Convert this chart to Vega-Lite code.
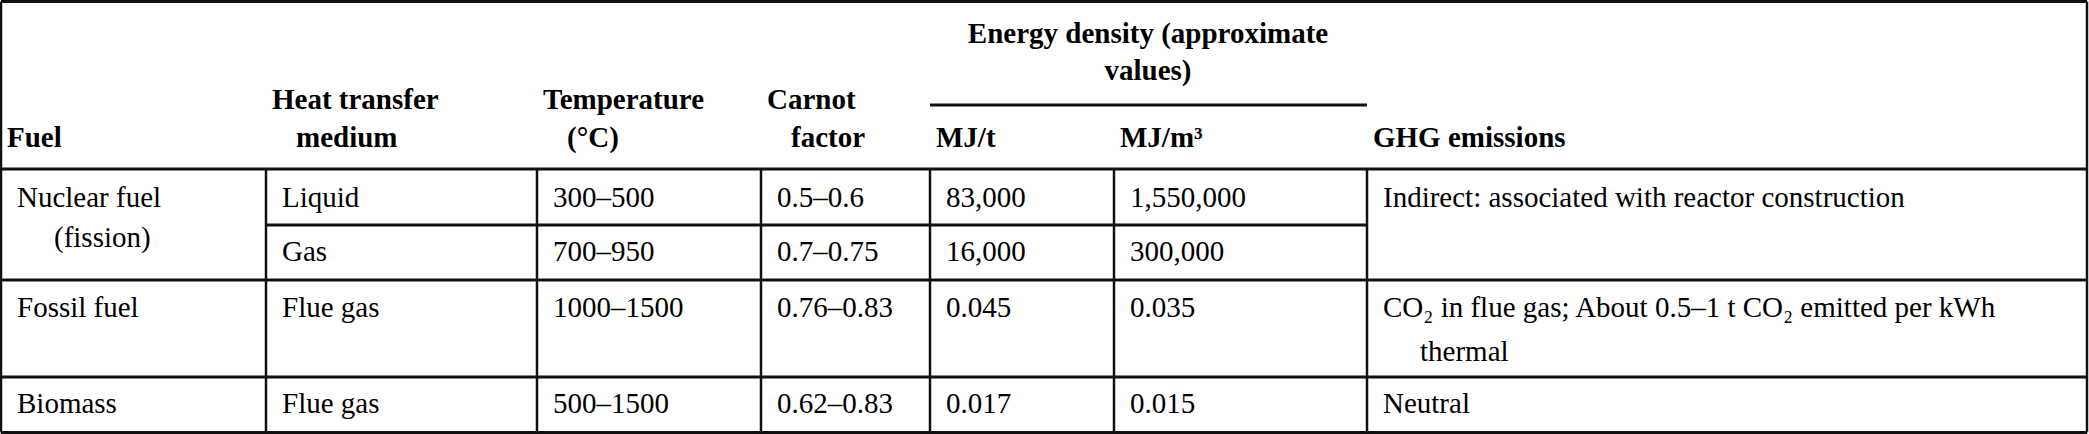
{
  "$schema": "https://vega.github.io/schema/vega-lite/v6.json",
  "width": 2089,
  "height": 434,
  "padding": 0,
  "autosize": {"type": "none"},
  "background": "white",
  "config": {"view": {"stroke": null}, "text": {"font": "Liberation Serif", "fontSize": 29, "color": "black"}},
  "datasets": {
    "cells": [
      {"col": 0, "slot": 3, "text": "Fuel", "kind": "head"},
      {"col": 1, "slot": 2, "text": "Heat transfer", "kind": "head"},
      {"col": 1, "slot": 3, "text": "medium", "kind": "head2"},
      {"col": 2, "slot": 2, "text": "Temperature", "kind": "head"},
      {"col": 2, "slot": 3, "text": "(°C)", "kind": "head2"},
      {"col": 3, "slot": 2, "text": "Carnot", "kind": "head"},
      {"col": 3, "slot": 3, "text": "factor", "kind": "head2"},
      {"col": 4, "slot": 0, "text": "Energy density (approximate", "kind": "span"},
      {"col": 4, "slot": 1, "text": "values)", "kind": "span"},
      {"col": 4, "slot": 3, "text": "MJ/t", "kind": "head"},
      {"col": 5, "slot": 3, "text": "MJ/m³", "kind": "head"},
      {"col": 6, "slot": 3, "text": "GHG emissions", "kind": "head"},
      {"col": 0, "slot": 4, "text": "Nuclear fuel", "kind": "body"},
      {"col": 0, "slot": 5, "text": "(fission)", "kind": "body2"},
      {"col": 1, "slot": 4, "text": "Liquid", "kind": "body"},
      {"col": 2, "slot": 4, "text": "300–500", "kind": "body"},
      {"col": 3, "slot": 4, "text": "0.5–0.6", "kind": "body"},
      {"col": 4, "slot": 4, "text": "83,000", "kind": "body"},
      {"col": 5, "slot": 4, "text": "1,550,000", "kind": "body"},
      {"col": 6, "slot": 4, "text": "Indirect: associated with reactor construction", "kind": "body"},
      {"col": 1, "slot": 6, "text": "Gas", "kind": "body"},
      {"col": 2, "slot": 6, "text": "700–950", "kind": "body"},
      {"col": 3, "slot": 6, "text": "0.7–0.75", "kind": "body"},
      {"col": 4, "slot": 6, "text": "16,000", "kind": "body"},
      {"col": 5, "slot": 6, "text": "300,000", "kind": "body"},
      {"col": 0, "slot": 7, "text": "Fossil fuel", "kind": "body"},
      {"col": 1, "slot": 7, "text": "Flue gas", "kind": "body"},
      {"col": 2, "slot": 7, "text": "1000–1500", "kind": "body"},
      {"col": 3, "slot": 7, "text": "0.76–0.83", "kind": "body"},
      {"col": 4, "slot": 7, "text": "0.045", "kind": "body"},
      {"col": 5, "slot": 7, "text": "0.035", "kind": "body"},
      {"col": 6, "slot": 7, "text": "CO₂ in flue gas; About 0.5–1 t CO₂ emitted per kWh", "kind": "body"},
      {"col": 6, "slot": 8, "text": "thermal", "kind": "body2"},
      {"col": 0, "slot": 9, "text": "Biomass", "kind": "body"},
      {"col": 1, "slot": 9, "text": "Flue gas", "kind": "body"},
      {"col": 2, "slot": 9, "text": "500–1500", "kind": "body"},
      {"col": 3, "slot": 9, "text": "0.62–0.83", "kind": "body"},
      {"col": 4, "slot": 9, "text": "0.017", "kind": "body"},
      {"col": 5, "slot": 9, "text": "0.015", "kind": "body"},
      {"col": 6, "slot": 9, "text": "Neutral", "kind": "body"}
    ],
    "hrules": [
      {"hb": 0, "c0": 0, "c1": 7},
      {"hb": 1, "c0": 4, "c1": 6},
      {"hb": 2, "c0": 0, "c1": 7},
      {"hb": 3, "c0": 1, "c1": 6},
      {"hb": 4, "c0": 0, "c1": 7},
      {"hb": 5, "c0": 0, "c1": 7},
      {"hb": 6, "c0": 0, "c1": 7}
    ],
    "vrules": [
      {"cb": 0, "hb0": 0, "hb1": 6},
      {"cb": 7, "hb0": 0, "hb1": 6},
      {"cb": 1, "hb0": 2, "hb1": 6},
      {"cb": 2, "hb0": 2, "hb1": 6},
      {"cb": 3, "hb0": 2, "hb1": 6},
      {"cb": 4, "hb0": 2, "hb1": 6},
      {"cb": 5, "hb0": 2, "hb1": 6},
      {"cb": 6, "hb0": 2, "hb1": 6}
    ]
  },
  "layer": [
    {
      "layer": [
        {
          "data": {"name": "hrules"},
          "mark": {"type": "rule", "strokeWidth": 3, "color": "#111111"},
          "encoding": {
            "x": {"field": "c0", "type": "quantitative", "axis": null, "scale": {"domain": [0, 1, 2, 3, 4, 5, 6, 7], "range": [1, 266, 537, 761, 930, 1114, 1367, 2087], "nice": false, "zero": false}},
            "x2": {"field": "c1"},
            "y": {"field": "hb", "type": "quantitative", "axis": null, "scale": {"domain": [0, 1, 2, 3, 4, 5, 6], "range": [1.5, 105, 169, 225, 280, 377, 432.5], "nice": false, "zero": false}}
          }
        },
        {
          "data": {"name": "vrules"},
          "mark": {"type": "rule", "strokeWidth": 2.5, "color": "#111111"},
          "encoding": {
            "x": {"field": "cb", "type": "quantitative", "axis": null},
            "y": {"field": "hb0", "type": "quantitative", "axis": null},
            "y2": {"field": "hb1"}
          }
        }
      ]
    },
    {
      "data": {"name": "cells"},
      "encoding": {
        "x": {"field": "col", "type": "quantitative", "axis": null},
        "y": {"field": "slot", "type": "quantitative", "axis": null, "scale": {"domain": [0, 1, 2, 3, 4, 5, 6, 7, 8, 9], "range": [43, 80, 109, 147, 207, 247, 261, 317, 361, 413], "nice": false, "zero": false}},
        "text": {"field": "text", "type": "nominal"}
      },
      "layer": [
        {"transform": [{"filter": "datum.kind === 'head'"}], "mark": {"type": "text", "align": "left", "baseline": "alphabetic", "dx": 6, "fontWeight": "bold"}},
        {"transform": [{"filter": "datum.kind === 'head2'"}], "mark": {"type": "text", "align": "left", "baseline": "alphabetic", "dx": 30, "fontWeight": "bold"}},
        {"transform": [{"filter": "datum.kind === 'span'"}], "mark": {"type": "text", "align": "center", "baseline": "alphabetic", "dx": 218, "fontWeight": "bold"}},
        {"transform": [{"filter": "datum.kind === 'body'"}], "mark": {"type": "text", "align": "left", "baseline": "alphabetic", "dx": 16}},
        {"transform": [{"filter": "datum.kind === 'body2'"}], "mark": {"type": "text", "align": "left", "baseline": "alphabetic", "dx": 53}}
      ]
    }
  ],
  "resolve": {"scale": {"y": "independent"}}
}
